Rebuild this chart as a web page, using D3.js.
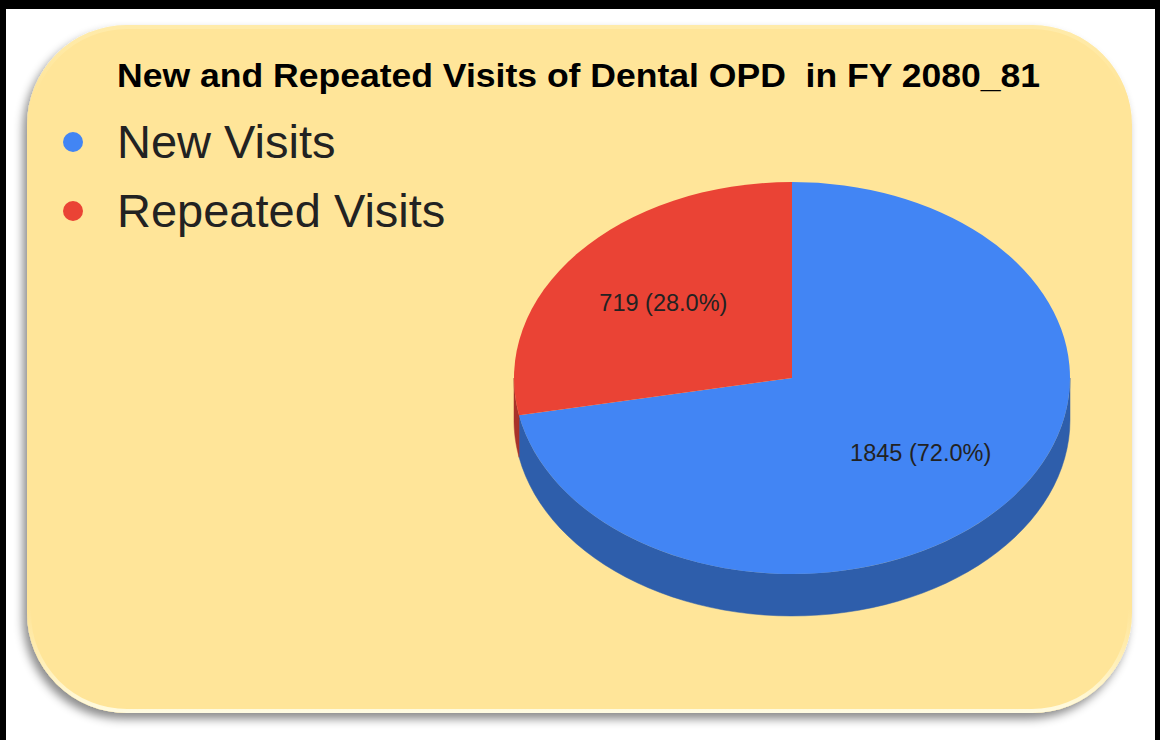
<!DOCTYPE html>
<html lang="en">
  <head>
    <meta charset="utf-8" />
    <title>New and Repeated Visits of Dental OPD</title>
    <script src="https://d3js.org/d3.v7.min.js"></script>
    <style type="text/css">
      body {
        margin: 0;
        background: #fff;
      }
      text {
        font-family: Arial, "Liberation Sans", sans-serif;
      }
    </style>
  </head>
  <body>
    <script type="text/javascript">
      //Data
      var title = "New and Repeated Visits of Dental OPD  in FY 2080_81";
      var categories = ["New Visits", "Repeated Visits"];
      var values = [1845, 719];
      var colors = ["#4285f4", "#ea4335"];
      var sideColors = ["#2e5eab", "#a8322a"];

      //Width and height
      var w = 1160;
      var h = 740;

      //Pie geometry
      var cx = 792,
        cy = 378,
        rx = 278,
        ry = 196,
        depth = 42;

      var svg = d3
        .select("body")
        .append("svg")
        .attr("width", w)
        .attr("height", h);

      var defs = svg.append("defs");

      var shadow = defs
        .append("filter")
        .attr("id", "shadow")
        .attr("x", "-10%")
        .attr("y", "-10%")
        .attr("width", "120%")
        .attr("height", "125%");
      shadow
        .append("feDropShadow")
        .attr("dx", -4)
        .attr("dy", 6)
        .attr("stdDeviation", 5)
        .attr("flood-color", "#000")
        .attr("flood-opacity", 0.45);

      var glow = defs
        .append("linearGradient")
        .attr("id", "glow")
        .attr("x1", 0)
        .attr("y1", 0)
        .attr("x2", 0)
        .attr("y2", 1);
      glow.append("stop").attr("offset", "0%").attr("stop-color", "#fff6c8").attr("stop-opacity", 0.35);
      glow.append("stop").attr("offset", "10%").attr("stop-color", "#fff6c8").attr("stop-opacity", 0);
      glow.append("stop").attr("offset", "85%").attr("stop-color", "#fff6c8").attr("stop-opacity", 0);
      glow.append("stop").attr("offset", "100%").attr("stop-color", "#fffbe0").attr("stop-opacity", 1);

      //Black frame
      svg.append("rect").attr("x", 0).attr("y", 0).attr("width", w).attr("height", 9).attr("fill", "#000");
      svg.append("rect").attr("x", 0).attr("y", 0).attr("width", 6).attr("height", h).attr("fill", "#000");
      svg.append("rect").attr("x", 1155).attr("y", 0).attr("width", 5).attr("height", h).attr("fill", "#000");

      //Yellow card
      svg
        .append("rect")
        .attr("x", 27)
        .attr("y", 25)
        .attr("width", 1105)
        .attr("height", 688)
        .attr("rx", 100)
        .attr("ry", 100)
        .attr("fill", "#ffe599")
        .attr("filter", "url(#shadow)");
      svg
        .append("rect")
        .attr("x", 29)
        .attr("y", 27)
        .attr("width", 1101)
        .attr("height", 684)
        .attr("rx", 98)
        .attr("ry", 98)
        .attr("fill", "none")
        .attr("stroke", "url(#glow)")
        .attr("stroke-width", 4);

      //Title
      svg
        .append("text")
        .attr("x", 578.5)
        .attr("y", 87)
        .attr("text-anchor", "middle")
        .style("white-space", "pre")
        .attr("font-size", 33)
        .attr("font-weight", "bold")
        .attr("textLength", 923)
        .attr("lengthAdjust", "spacingAndGlyphs")
        .attr("fill", "#000")
        .text(title);

      //Legend
      var legend = svg
        .selectAll("g.legend")
        .data(categories)
        .enter()
        .append("g")
        .attr("class", "legend")
        .attr("transform", function (d, i) {
          return "translate(73," + (142 + i * 69) + ")";
        });
      legend
        .append("circle")
        .attr("r", 10)
        .attr("fill", function (d, i) {
          return colors[i];
        });
      legend
        .append("text")
        .attr("x", 44)
        .attr("y", 16)
        .attr("font-size", 47)
        .attr("fill", "#222")
        .text(function (d) {
          return d;
        });

      //Pie
      var pie = d3.pie().sort(null).value(function (d) {
        return d;
      });
      var arcs = pie(values);
      var total = d3.sum(values);

      var g = svg.append("g").attr("transform", "translate(" + cx + "," + cy + ")");

      //Side wall (front half only)
      function px(a) {
        return rx * Math.sin(a);
      }
      function py(a) {
        return -ry * Math.cos(a);
      }
      var line = d3.line();
      arcs.forEach(function (d, i) {
        var s = Math.max(d.startAngle, Math.PI / 2);
        var e = Math.min(d.endAngle, (3 * Math.PI) / 2);
        if (e <= s) return;
        var steps = d3.range(0, 61).map(function (k) {
          return s + ((e - s) * k) / 60;
        });
        var pts = steps.map(function (a) {
          return [px(a), py(a)];
        });
        var back = steps
          .slice()
          .reverse()
          .map(function (a) {
            return [px(a), py(a) + depth];
          });
        g.append("path")
          .attr("d", line(pts.concat(back)) + "Z")
          .attr("fill", sideColors[i])
          .attr("stroke", sideColors[i])
          .attr("stroke-width", 0.5);
      });

      //Top face
      var arc = d3.arc().innerRadius(0).outerRadius(rx);
      g.append("g")
        .attr("transform", "scale(1," + ry / rx + ")")
        .selectAll("path")
        .data(arcs)
        .enter()
        .append("path")
        .attr("d", arc)
        .attr("fill", function (d, i) {
          return colors[i];
        });

      //Labels
      g.selectAll("text.lbl")
        .data(arcs)
        .enter()
        .append("text")
        .attr("class", "lbl")
        .attr("x", function (d) {
          var a = (d.startAngle + d.endAngle) / 2;
          return px(a) * 0.6;
        })
        .attr("y", function (d) {
          var a = (d.startAngle + d.endAngle) / 2;
          return py(a) * 0.6;
        })
        .attr("dy", "0.35em")
        .attr("text-anchor", "middle")
        .attr("font-size", 23.5)
        .attr("fill", "#222")
        .text(function (d) {
          return d.value + " (" + ((d.value / total) * 100).toFixed(1) + "%)";
        });
    </script>
  </body>
</html>
